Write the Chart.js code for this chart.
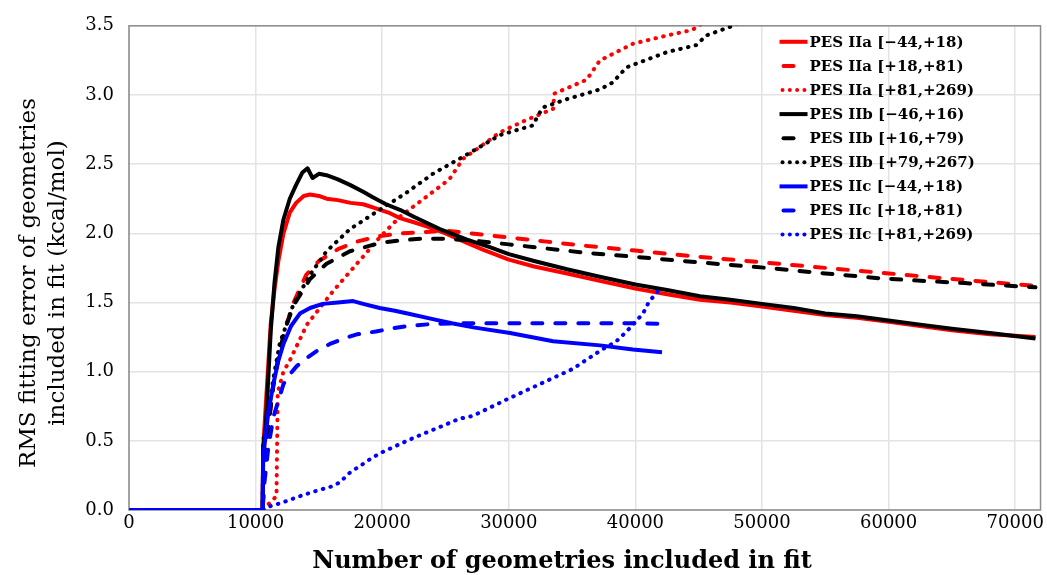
<!DOCTYPE html>
<html>
<head>
<meta charset="utf-8">
<script src="https://cdn.jsdelivr.net/npm/chart.js@4/dist/chart.umd.min.js"></script>
<style>
  html, body { margin: 0; padding: 0; background: #ffffff; }
  #wrap { width: 1047px; height: 575px; position: relative; }
</style>
</head>
<body>
<div id="wrap"><canvas id="rmsChart"></canvas></div>
<script>
// Values (x = number of geometries, y = RMS in kcal/mol)
const seriesLabels = [
    'PES IIa [\u221244,+18)', 'PES IIa [+18,+81)', 'PES IIa [+81,+269)',
    'PES IIb [\u221246,+16)', 'PES IIb [+16,+79)', 'PES IIb [+79,+267)',
    'PES IIc [\u221244,+18)', 'PES IIc [+18,+81)', 'PES IIc [+81,+269)'
];

const iiaSolidX = [0, 10550, 10600, 10800, 11000, 11200, 11500, 11800, 12200, 12700, 13200, 13800, 14300, 15000, 15600, 16500, 17500, 18500, 19500, 20500, 21400, 22500, 23500, 25000, 26700, 28000, 30000, 32000, 34600, 37000, 40000, 42500, 45100, 47500, 50000, 52500, 55000, 57500, 60000, 62500, 65000, 68000, 71600];
const iiaSolidY = [0, 0, 0.45, 0.75, 1.05, 1.35, 1.6, 1.8, 2.0, 2.15, 2.22, 2.27, 2.28, 2.27, 2.25, 2.24, 2.22, 2.21, 2.18, 2.15, 2.11, 2.08, 2.05, 2.0, 1.93, 1.88, 1.81, 1.76, 1.71, 1.66, 1.60, 1.56, 1.52, 1.50, 1.47, 1.44, 1.41, 1.39, 1.36, 1.33, 1.30, 1.27, 1.25];

const iiaDashX = [0, 10550, 10700, 11000, 11400, 11800, 12300, 13000, 14000, 15000, 16600, 18000, 19800, 21500, 23500, 25000, 27000, 30000, 33000, 36000, 40000, 45000, 50000, 55000, 60000, 65000, 71600];
const iiaDashY = [0, 0, 0.3, 0.6, 0.9, 1.1, 1.3, 1.5, 1.7, 1.8, 1.89, 1.94, 1.98, 2.0, 2.01, 2.02, 2.0, 1.97, 1.94, 1.91, 1.875, 1.83, 1.79, 1.75, 1.71, 1.67, 1.62];

const iiaDotX = [0, 10550, 11100, 11650, 11700, 11750, 12200, 12700, 14050, 16100, 18000, 19800, 21400, 23000, 25300, 26400, 27950, 29300, 31400, 33500, 33600, 36150, 37200, 39800, 42500, 44500, 45300];
const iiaDotY = [0, 0, 0.05, 0.1, 0.5, 0.85, 1.0, 1.08, 1.34, 1.58, 1.78, 1.97, 2.12, 2.23, 2.39, 2.54, 2.64, 2.73, 2.82, 2.90, 3.01, 3.11, 3.25, 3.37, 3.43, 3.47, 3.52];

const iibSolidX = [0, 10550, 10600, 10800, 11000, 11200, 11500, 11800, 12200, 12700, 13200, 13700, 14100, 14500, 15000, 15600, 16500, 17450, 18500, 19260, 20300, 21400, 22500, 24550, 26700, 28500, 30000, 32000, 34600, 37000, 40000, 42500, 45100, 47500, 50000, 52500, 55000, 57500, 60000, 62500, 65000, 68000, 71600];
const iibSolidY = [0, 0, 0.45, 0.6, 0.95, 1.3, 1.65, 1.9, 2.1, 2.25, 2.35, 2.44, 2.47, 2.40, 2.43, 2.42, 2.39, 2.35, 2.30, 2.26, 2.21, 2.17, 2.12, 2.03, 1.955, 1.90, 1.85, 1.80, 1.74, 1.69, 1.63, 1.59, 1.545, 1.52, 1.49, 1.46, 1.42, 1.40, 1.37, 1.34, 1.31, 1.28, 1.24];

const iibDashX = [0, 10550, 10700, 11000, 11400, 11800, 12300, 13000, 14300, 15600, 17450, 19800, 21500, 23000, 25000, 27000, 30000, 33000, 36000, 40000, 45000, 50400, 55000, 59300, 62000, 66000, 71600];
const iibDashY = [0, 0, 0.3, 0.6, 0.9, 1.1, 1.3, 1.48, 1.67, 1.78, 1.87, 1.93, 1.95, 1.96, 1.96, 1.95, 1.92, 1.89, 1.86, 1.83, 1.79, 1.75, 1.71, 1.675, 1.66, 1.64, 1.61];

const iibDotX = [0, 10550, 10600, 11000, 11400, 11900, 13000, 14300, 15600, 17450, 19800, 21700, 24000, 26700, 29300, 31900, 32300, 32700, 34600, 37200, 38200, 39300, 42500, 44800, 45600, 47700, 49000];
const iibDotY = [0, 0, 0.5, 0.7, 0.95, 1.2, 1.49, 1.70, 1.87, 2.03, 2.17, 2.28, 2.43, 2.57, 2.71, 2.78, 2.85, 2.91, 2.97, 3.04, 3.09, 3.2, 3.31, 3.36, 3.43, 3.5, 3.57];

const iicSolidX = [0, 10550, 10600, 10800, 11000, 11400, 11800, 12200, 12800, 13500, 14300, 15300, 16500, 17700, 18500, 19800, 21000, 22000, 24000, 25500, 27200, 30100, 33500, 37200, 39800, 42100];
const iicSolidY = [0, 0, 0.38, 0.55, 0.7, 0.91, 1.08, 1.2, 1.33, 1.42, 1.46, 1.49, 1.50, 1.51, 1.49, 1.46, 1.44, 1.42, 1.38, 1.35, 1.32, 1.28, 1.22, 1.19, 1.16, 1.14];

const iicDashX = [0, 10550, 10700, 11000, 11400, 12200, 12700, 13250, 14050, 15000, 15870, 17000, 18000, 19500, 20600, 22000, 24000, 26000, 30000, 35000, 40000, 42100];
const iicDashY = [0, 0, 0.2, 0.45, 0.67, 0.91, 0.98, 1.04, 1.10, 1.16, 1.20, 1.24, 1.27, 1.29, 1.31, 1.33, 1.345, 1.35, 1.35, 1.35, 1.35, 1.345];

const iicDotX = [0, 10550, 10900, 12000, 13500, 14500, 16000, 16650, 17450, 19260, 20050, 21950, 22700, 24550, 26100, 27150, 29850, 32450, 35050, 37200, 38500, 39300, 40600, 41100, 41600, 41900];
const iicDotY = [0, 0, 0.02, 0.05, 0.10, 0.13, 0.17, 0.20, 0.27, 0.38, 0.42, 0.50, 0.53, 0.60, 0.66, 0.68, 0.80, 0.91, 1.02, 1.15, 1.22, 1.29, 1.42, 1.51, 1.56, 1.60];

const xTickValues = [0, 10000, 20000, 30000, 40000, 50000, 60000, 70000];

const seriesX = [iiaSolidX, iiaDashX, iiaDotX, iibSolidX, iibDashX, iibDotX, iicSolidX, iicDashX, iicDotX];
const seriesY = [iiaSolidY, iiaDashY, iiaDotY, iibSolidY, iibDashY, iibDotY, iicSolidY, iicDashY, iicDotY];
const seriesColors = ['#ff0000', '#ff0000', '#ff0000', '#000000', '#000000', '#000000', '#0000ff', '#0000ff', '#0000ff'];
const seriesStyles = ['solid', 'dash', 'dot', 'solid', 'dash', 'dot', 'solid', 'dash', 'dot'];

const dashFor = { solid: [], dash: [10, 13], dot: [0.5, 7.4] };
const serif = 'DejaVu Serif';

const datasets = seriesLabels.map(function (label, i) {
    return {
        label: label,
        data: seriesX[i].map(function (x, j) { return { x: x, y: seriesY[i][j] }; }),
        borderColor: seriesColors[i],
        backgroundColor: seriesColors[i],
        borderWidth: 4,
        borderDash: dashFor[seriesStyles[i]],
        borderCapStyle: seriesStyles[i] === 'solid' ? 'butt' : 'round',
        borderJoinStyle: 'round',
        pointRadius: 0,
        showLine: true,
        tension: 0,
        fill: false,
        order: 9 - i,  // later series drawn on top, like the original
    };
});

// shrink/grow a font so the text covers the width it has in the original
function fitFont(ctx, text, weight, maxSize, width) {
    let size = maxSize;
    ctx.font = weight + ' ' + size + 'px "' + serif + '"';
    while (size > 8 && ctx.measureText(text).width > width) {
        size -= 0.5;
        ctx.font = weight + ' ' + size + 'px "' + serif + '"';
    }
    return size;
}

// Plot frame, legend inside the plot, and the axis titles
const decorations = {
    id: 'decorations',
    beforeDatasetsDraw(chart) {
        const { ctx, chartArea: a } = chart;
        ctx.save();
        ctx.strokeStyle = '#8c8c8c';
        ctx.lineWidth = 1.5;
        ctx.strokeRect(a.left, a.top, a.right - a.left, a.bottom - a.top);
        ctx.restore();
    },
    afterDraw(chart) {
        const { ctx, chartArea: a } = chart;
        ctx.save();
        // legend
        const lx = a.right - 261;
        let ly = a.top + 16;
        fitFont(ctx, seriesLabels[0], 'bold', 18, 157);
        ctx.textBaseline = 'middle';
        ctx.textAlign = 'left';
        seriesLabels.forEach(function (label, i) {
            ctx.strokeStyle = seriesColors[i];
            ctx.fillStyle = seriesColors[i];
            ctx.lineWidth = 4;
            if (seriesStyles[i] === 'solid') {
                ctx.beginPath();
                ctx.moveTo(lx, ly);
                ctx.lineTo(lx + 28, ly);
                ctx.stroke();
            } else if (seriesStyles[i] === 'dash') {
                ctx.lineCap = 'round';
                ctx.beginPath();
                ctx.moveTo(lx + 4, ly);
                ctx.lineTo(lx + 14, ly);
                ctx.stroke();
                ctx.lineCap = 'butt';
            } else {
                for (let k = 0; k < 4; k++) {
                    ctx.beginPath();
                    ctx.arc(lx + 3 + k * 7.3, ly, 2, 0, Math.PI * 2);
                    ctx.fill();
                }
            }
            ctx.fillStyle = '#000000';
            ctx.fillText(label, lx + 30, ly + 1);
            ly += 24.1;
        });

        // axis titles
        ctx.fillStyle = '#000000';
        ctx.textAlign = 'center';
        fitFont(ctx, 'Number of geometries included in fit', 'bold', 26, 505);
        ctx.fillText('Number of geometries included in fit', 562, 562);

        ctx.translate(43, 283);
        ctx.rotate(-Math.PI / 2);
        fitFont(ctx, 'RMS fitting error of geometries', 'normal', 25, 375);
        ctx.fillText('RMS fitting error of geometries', 0, -14);
        ctx.fillText('included in fit (kcal/mol)', 0, 15);
        ctx.restore();
    }
};

const ctx = document.getElementById('rmsChart').getContext('2d');
const chart = new Chart(ctx, {
    type: 'scatter',
    data: { datasets: datasets },
    options: {
        responsive: true,
        maintainAspectRatio: false,
        animation: false,
        layout: { padding: { top: 23, right: 6, left: 0, bottom: 0 } },
        plugins: {
            legend: { display: false },
            tooltip: { enabled: false },
        },
        scales: {
            x: {
                type: 'linear',
                min: 0,
                max: 72000,
                afterBuildTicks: function (scale) {
                    scale.ticks = xTickValues.map(function (v) { return { value: v }; });
                },
                afterFit: function (scale) { scale.height = 65; },
                ticks: {
                    color: '#000000',
                    font: { family: serif, size: 18 },
                    padding: 3,
                    maxRotation: 0,
                    callback: function (v) { return String(v); },
                },
                grid: { color: '#e3e3e3', lineWidth: 1.5, drawTicks: false },
                border: { display: false },
            },
            y: {
                type: 'linear',
                min: 0,
                max: 3.5,
                afterFit: function (scale) { scale.width = 129; },
                ticks: {
                    stepSize: 0.5,
                    color: '#000000',
                    font: { family: serif, size: 18 },
                    padding: 15,
                    callback: function (v) { return v.toFixed(1); },
                },
                grid: { color: '#e3e3e3', lineWidth: 1.5, drawTicks: false },
                border: { display: false },
            },
        },
    },
    plugins: [decorations],
});
</script>
</body>
</html>
